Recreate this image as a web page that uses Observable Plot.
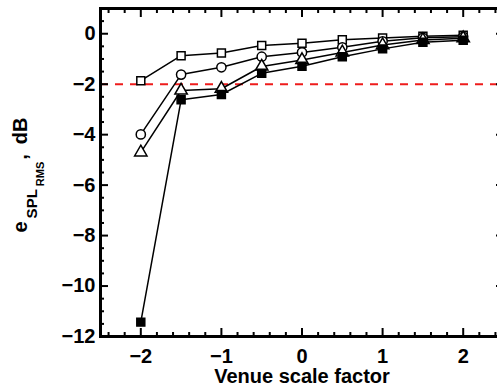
<!DOCTYPE html>
<html><head><meta charset="utf-8">
<script src="https://cdn.jsdelivr.net/npm/d3@7"></script>
<script src="https://cdn.jsdelivr.net/npm/@observablehq/plot@0.6"></script>
<style>body{margin:0;background:#fff;overflow:hidden}</style>
</head><body><div id="chart"></div>
<script>
// ---- data ----
const venueScale   = [-2, -1.5, -1, -0.5, 0, 0.5, 1, 1.5, 2];
const openSquare   = [-1.86, -0.87, -0.76, -0.47, -0.38, -0.24, -0.17, -0.10, -0.06];
const openCircle   = [-3.99, -1.62, -1.33, -0.91, -0.74, -0.54, -0.30, -0.16, -0.12];
const openTriangle = [-4.70, -2.25, -2.18, -1.30, -1.04, -0.74, -0.45, -0.25, -0.18];
const filledSquare = [-11.43, -2.62, -2.41, -1.57, -1.29, -0.91, -0.60, -0.34, -0.26];
const thresholdDb  = [-2];

const xMajorTicks = [-2, -1, 0, 1, 2];
const yMajorTicks = [-12, -10, -8, -6, -4, -2, 0];
const xMinorTicks = d3.range(-24, 25, 2).map(v => v / 10).filter(v => !xMajorTicks.includes(v));
const yMinorTicks = d3.range(-24, 3, 1).map(v => v / 2).filter(v => !yMajorTicks.includes(v));

const seriesDefs = [
  {values: openSquare,   symbol: "square",   fill: "white", r: 4.5},
  {values: openCircle,   symbol: "circle",   fill: "white", r: 4.6},
  {values: openTriangle, symbol: "triangle", fill: "white", r: 4.6},
  {values: filledSquare, symbol: "square",   fill: "black", r: 4.5}
];

const font = "'Liberation Sans', Arial, Helvetica, sans-serif";

const seriesMarks = seriesDefs.flatMap(s => {
  const rows = venueScale.map((x, i) => ({x, y: s.values[i]}));
  return [
    Plot.line(rows, {x: "x", y: "y", stroke: "black", strokeWidth: 1.5}),
    Plot.dot(rows, {x: "x", y: "y", symbol: s.symbol, r: s.r, fill: s.fill, stroke: "black", strokeWidth: 1.5})
  ];
});

const tickOpts = {strokeWidth: 2, fill: "none", label: null};

const svg = Plot.plot({
  width: 497,
  height: 390,
  marginLeft: 100,
  marginRight: -6,
  marginTop: 8,
  marginBottom: 54,
  style: {fontFamily: font, fontWeight: "bold", background: "white", color: "black"},
  x: {domain: [-2.5, 2.5]},
  y: {domain: [-12, 1]},
  marks: [
    Plot.ruleY(thresholdDb, {stroke: "#ee1c1c", strokeWidth: 2, strokeDasharray: "8,7"}),
    ...seriesMarks,
    // inward ticks on all four sides
    Plot.axisX(xMinorTicks, {anchor: "bottom", tickSize: -4, ...tickOpts}),
    Plot.axisX(xMajorTicks, {anchor: "bottom", tickSize: -8, ...tickOpts}),
    Plot.axisX(xMinorTicks, {anchor: "top", tickSize: -4, ...tickOpts}),
    Plot.axisX(xMajorTicks, {anchor: "top", tickSize: -8, ...tickOpts}),
    Plot.axisY(yMinorTicks, {anchor: "left", tickSize: -4, ...tickOpts}),
    Plot.axisY(yMajorTicks, {anchor: "left", tickSize: -8, ...tickOpts}),
    Plot.axisY(yMinorTicks, {anchor: "right", tickSize: -4, ...tickOpts}),
    Plot.axisY(yMajorTicks, {anchor: "right", tickSize: -8, ...tickOpts}),
    // labels
    Plot.axisX(xMajorTicks, {anchor: "bottom", tickSize: 0, tickPadding: 12, fontSize: 20, fontWeight: "bold",
      label: "Venue scale factor", labelAnchor: "center", labelOffset: 46, labelArrow: "none"}),
    Plot.axisY(yMajorTicks, {anchor: "left", tickSize: 0, tickPadding: 5, fontSize: 20, fontWeight: "bold", label: null}),
    Plot.frame({stroke: "black", strokeWidth: 3})
  ]
});

// y-axis label with subscripts
const ylab = d3.select(svg).append("text")
  .attr("transform", "translate(27,175) rotate(-90)")
  .attr("text-anchor", "middle")
  .attr("font-family", font)
  .attr("font-weight", "bold")
  .attr("fill", "black");
ylab.append("tspan").attr("font-size", 20).text("e");
ylab.append("tspan").attr("font-size", 15).attr("dx", 3).attr("dy", 10).text("SPL");
ylab.append("tspan").attr("font-size", 11).attr("dx", 3).attr("dy", 7).text("RMS");
ylab.append("tspan").attr("font-size", 20).attr("dx", 2).attr("dy", -17).text(",");
ylab.append("tspan").attr("font-size", 20).attr("dx", 10).text("dB");

document.getElementById("chart").appendChild(svg);
</script>
</body></html>
